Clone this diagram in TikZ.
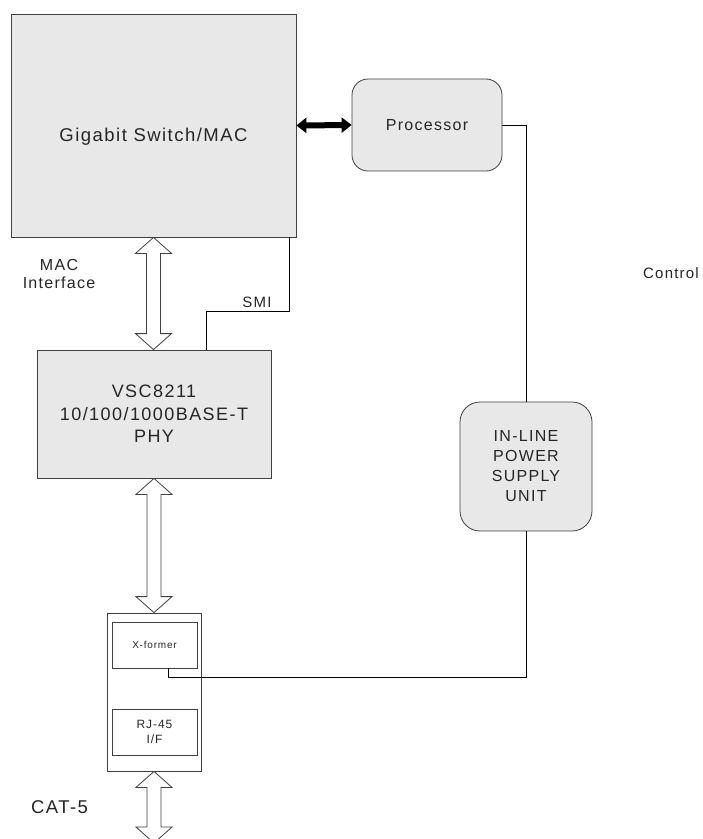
\documentclass[tikz,border=0pt]{standalone}
\usepackage{fontspec}
\setmainfont{Liberation Sans}[LetterSpace=8]
\usetikzlibrary{arrows.meta,calc}
\definecolor{boxgray}{HTML}{E8E8E8}
\definecolor{linegray}{HTML}{404040}
\tikzset{
  box/.style={draw=linegray, fill=boxgray, line width=0.8pt, inner sep=0pt, minimum width=#1},
  rbox/.style={box=#1, rounded corners=16pt},
  wbox/.style={draw=linegray, fill=white, line width=0.8pt, inner sep=0pt, minimum width=#1},
  wire/.style={draw=black, line width=0.8pt},
  lbl/.style={text=black!85, inner sep=0pt, align=center},
  openarrow/.style={draw=linegray, fill=white, line width=0.8pt, line join=miter},
}
\newcommand\blockarr[2]{%
  \path[openarrow] let \p1=#1, \p2=#2 in
    (\x1,\y1) -- (\x1+18pt,\y1-16pt) -- (\x1+7pt,\y1-16pt) -- (\x1+7pt,\y2+16pt)
    -- (\x1+18pt,\y2+16pt) -- (\x1,\y2) -- (\x1-18pt,\y2+16pt) -- (\x1-7pt,\y2+16pt)
    -- (\x1-7pt,\y1-16pt) -- (\x1-18pt,\y1-16pt) -- cycle;}
\begin{document}
\begin{tikzpicture}[x=1pt,y=-1pt]
\clip (0,0) rectangle (703,839);
\fill[white] (0,0) rectangle (703,839);

% boxes
\node[box=285pt, minimum height=223pt] (gig) at (153.5,125.5) {};
\node[lbl, font=\fontsize{18.5}{22}\selectfont] (giglbl) at (153.5,137) {Gigabit Switch/MAC};
\node[rbox=150pt, minimum height=92pt, font=\fontsize{16}{20}\selectfont, text=black!85] (proc) at (427,125) {Processor};
\node[box=234pt, minimum height=128pt, align=center, text=black!85, font=\fontsize{18}{22.5}\selectfont] (phy) at (154,414) {VSC8211\\10/100/1000BASE-T\\PHY};
\node[rbox=132pt, minimum height=129pt, rounded corners=20pt, align=center, text=black!85, font=\fontsize{16}{20}\selectfont] (psu) at (526,466.5) {IN-LINE\\POWER\\SUPPLY\\UNIT};
\node[wbox=94pt, minimum height=158pt] (mag) at (154,692) {};
\node[wbox=85pt, minimum height=46pt, text=black!85, font=\fontsize{10}{12}\selectfont] (xf) at (154.5,645) {X-former};
\node[wbox=85pt, minimum height=46pt, align=center, text=black!85, font=\fontsize{12}{14.5}\selectfont] (rj) at (154.5,732) {RJ-45\\I/F};

% labels
\node[lbl, font=\fontsize{16}{18.5}\selectfont] (macif) at (59,274) {MAC\\Interface};
\node[lbl, font=\fontsize{15}{18}\selectfont] (smilbl) at (257,302) {SMI};
\node[lbl, font=\fontsize{15}{18}\selectfont] (ctrl) at (671,273) {Control};
\node[lbl, font=\fontsize{18.5}{22}\selectfont] (cat) at (59.5,807) {CAT-5};

% coordinates
\coordinate (smiA) at (289,311);
\coordinate (smiB) at (206,311);
\coordinate (xfc) at (168,677);
\coordinate (catend) at (154,843);

% wires
\draw[wire] (gig.south -| smiA) -- (smiA) -- (smiB) -- (smiB |- phy.north);
\draw[wire] (proc.east) -| (psu.north);
\draw[wire] (psu.south) |- (xfc) -- (xfc |- xf.south);

% thick black arrow
\draw[line width=6pt, black, {Triangle[length=10pt,width=15pt]}-{Triangle[length=10pt,width=15pt]}] (gig.east) -- (proc.west);

% block arrows
\blockarr{(gig.south)}{(phy.north)}
\blockarr{(phy.south)}{(mag.north)}
\blockarr{(mag.south)}{(catend)}
\end{tikzpicture}
\end{document}
